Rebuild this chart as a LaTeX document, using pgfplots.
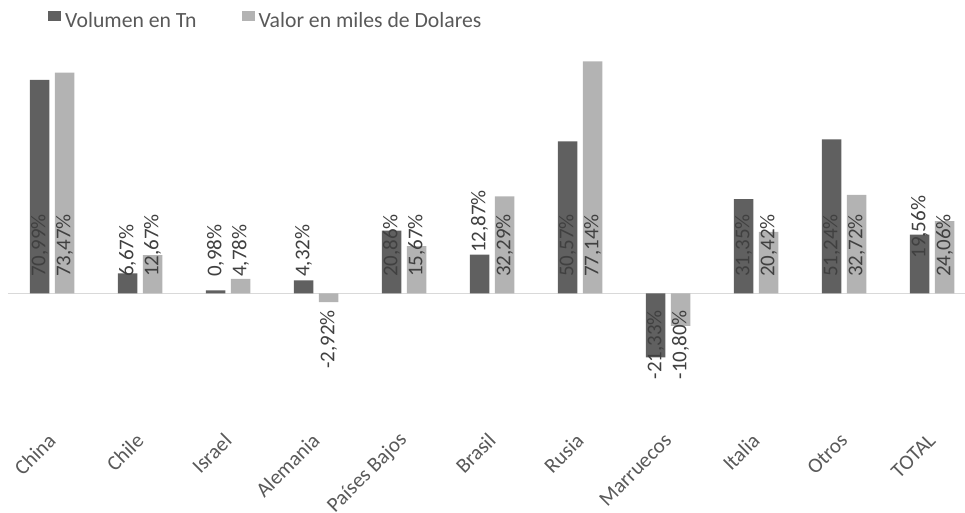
\documentclass[border=0pt]{standalone}
\usepackage{pgfplots}
\pgfplotsset{compat=1.18}
\usepackage{fontspec}
\setmainfont{Carlito}
\definecolor{dark}{HTML}{606060}
\definecolor{light}{HTML}{B3B3B3}
\definecolor{txt}{HTML}{595959}
\definecolor{lbl}{HTML}{404040}
\definecolor{zline}{HTML}{D9D9D9}
\newcommand{\cf}{\fontsize{21pt}{24pt}\selectfont}
\begin{document}
\begin{tikzpicture}
\useasboundingbox (-8pt,-92pt) rectangle (957pt,420pt);
\begin{axis}[
  at={(0pt,0pt)}, anchor=south west,
  scale only axis, width=957pt, height=365pt,
  xmin=-0.5, xmax=10.375, ymin=-42.16, ymax=79.3,
  axis line style={draw=none},
  ytick=\empty, xtick={0,...,10},
  xticklabels={China,Chile,Israel,Alemania,Países Bajos,Brasil,Rusia,Marruecos,Italia,Otros,TOTAL},
  major tick length=0pt,
  x tick label style={xshift=0pt, yshift=-17pt, rotate=45, anchor=east, inner sep=0pt, font=\cf, text=txt},
  extra y ticks={0}, extra y tick labels={},
  extra y tick style={grid=major, major grid style={draw=zline, line width=1.5pt}},
  clip=false,
  legend style={at={(0,1)}, anchor=west, xshift=40pt, yshift=34pt, draw=none, fill=none, inner sep=0pt,
    font=\fontsize{21.7pt}{24pt}\selectfont, text=txt, /tikz/every even column/.append style={column sep=43pt},
    nodes={inner sep=2pt}},
  legend columns=2,
]
\addplot[ybar, bar width=19.5pt, bar shift=-12.5pt, fill=dark, draw=none,
  legend image code/.code={\fill[dark] (0pt,0pt) rectangle (13pt,10.5pt); \path (15pt,0pt);}]
  coordinates {(0,70.99) (1,6.67) (2,0.98) (3,4.32) (4,20.86) (5,12.87) (6,50.57) (7,-21.33) (8,31.35) (9,51.24) (10,19.56)};
\addplot[ybar, bar width=19.5pt, bar shift=12.5pt, fill=light, draw=none,
  legend image code/.code={\fill[light] (0pt,0pt) rectangle (13pt,10.5pt); \path (15pt,0pt);}]
  coordinates {(0,73.47) (1,12.67) (2,4.78) (3,-2.92) (4,15.67) (5,32.29) (6,77.14) (7,-10.80) (8,20.42) (9,32.72) (10,24.06)};
\legend{Volumen en Tn, Valor en miles de Dolares}
% data labels, dark series
\addplot[draw=none, forget plot, nodes near coords, point meta=explicit symbolic,
  nodes near coords style={xshift=-12.5pt, rotate=90, anchor=west, inner sep=0pt, font=\cf, text=lbl}]
  coordinates {(0,5.4)[70,99\%] (1,5.4)[6,67\%] (2,5.4)[0,98\%] (3,5.4)[4,32\%] (4,5.4)[20,86\%] (5,13.4)[12,87\%] (6,5.4)[50,57\%] (8,5.4)[31,35\%] (9,5.4)[51,24\%] (10,11.5)[19,56\%]};
\addplot[draw=none, forget plot, nodes near coords, point meta=explicit symbolic,
  nodes near coords style={xshift=-12.5pt, rotate=90, anchor=east, inner sep=0pt, font=\cf, text=lbl}]
  coordinates {(7,-5.5)[-21,33\%]};
% data labels, light series
\addplot[draw=none, forget plot, nodes near coords, point meta=explicit symbolic,
  nodes near coords style={xshift=12.5pt, rotate=90, anchor=west, inner sep=0pt, font=\cf, text=lbl}]
  coordinates {(0,5.4)[73,47\%] (1,5.4)[12,67\%] (2,5.4)[4,78\%] (4,5.4)[15,67\%] (5,5.4)[32,29\%] (6,5.4)[77,14\%] (8,5.4)[20,42\%] (9,5.4)[32,72\%] (10,5.4)[24,06\%]};
\addplot[draw=none, forget plot, nodes near coords, point meta=explicit symbolic,
  nodes near coords style={xshift=12.5pt, rotate=90, anchor=east, inner sep=0pt, font=\cf, text=lbl}]
  coordinates {(3,-5.5)[-2,92\%] (7,-5.5)[-10,80\%]};
\end{axis}
\end{tikzpicture}
\end{document}
